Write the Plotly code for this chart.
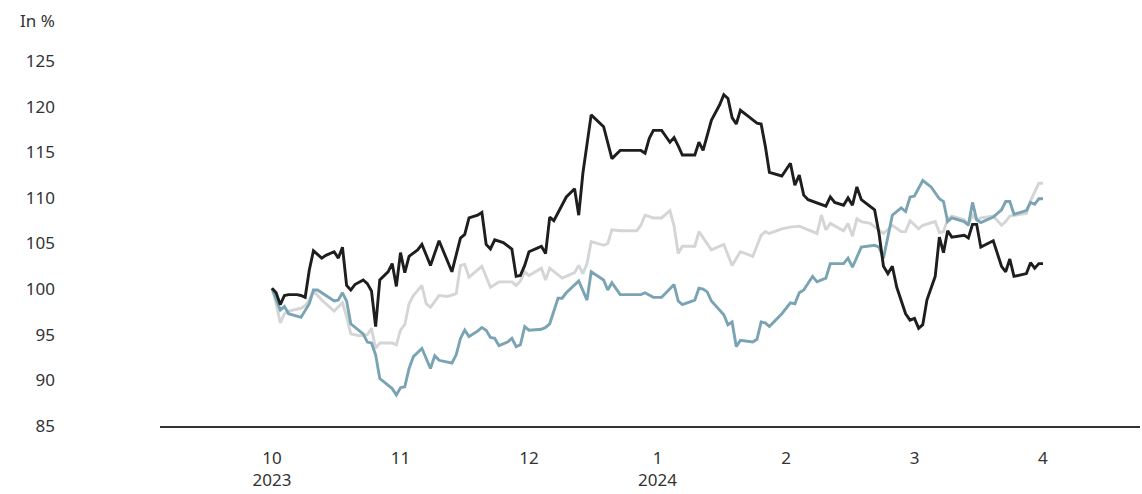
import calendar
import pandas as pd
import plotly.graph_objects as go

# ---------------- data ----------------
black_dates = [
    "2023-10-01", "2023-10-02", "2023-10-03", "2023-10-04", "2023-10-05", "2023-10-07", "2023-10-08",
    "2023-10-09", "2023-10-10", "2023-10-11", "2023-10-13", "2023-10-14", "2023-10-16", "2023-10-17",
    "2023-10-18", "2023-10-19", "2023-10-20", "2023-10-21", "2023-10-23", "2023-10-24", "2023-10-25",
    "2023-10-26", "2023-10-27", "2023-10-29", "2023-10-30", "2023-10-31", "2023-11-01", "2023-11-02",
    "2023-11-03", "2023-11-05", "2023-11-06", "2023-11-08", "2023-11-10", "2023-11-13", "2023-11-15",
    "2023-11-16", "2023-11-17", "2023-11-19", "2023-11-20", "2023-11-21", "2023-11-22", "2023-11-23",
    "2023-11-25", "2023-11-26", "2023-11-27", "2023-11-28", "2023-11-29", "2023-11-30", "2023-12-01",
    "2023-12-03", "2023-12-04", "2023-12-05", "2023-12-06", "2023-12-07", "2023-12-09", "2023-12-10",
    "2023-12-12", "2023-12-13", "2023-12-14", "2023-12-16", "2023-12-19", "2023-12-20", "2023-12-21",
    "2023-12-23", "2023-12-28", "2023-12-29", "2023-12-30", "2023-12-31", "2024-01-02", "2024-01-04",
    "2024-01-05", "2024-01-06", "2024-01-07", "2024-01-10", "2024-01-11", "2024-01-12", "2024-01-13",
    "2024-01-14", "2024-01-16", "2024-01-17", "2024-01-18", "2024-01-19", "2024-01-20", "2024-01-21",
    "2024-01-23", "2024-01-25", "2024-01-26", "2024-01-27", "2024-01-28", "2024-01-31", "2024-02-02",
    "2024-02-03", "2024-02-04", "2024-02-05", "2024-02-06", "2024-02-09", "2024-02-10", "2024-02-11",
    "2024-02-12", "2024-02-14", "2024-02-15", "2024-02-16", "2024-02-17", "2024-02-18", "2024-02-21",
    "2024-02-22", "2024-02-23", "2024-02-24", "2024-02-25", "2024-02-26", "2024-02-28", "2024-02-29",
    "2024-03-01", "2024-03-02", "2024-03-03", "2024-03-04", "2024-03-06", "2024-03-07", "2024-03-08",
    "2024-03-09", "2024-03-10", "2024-03-13", "2024-03-14", "2024-03-15", "2024-03-16", "2024-03-17",
    "2024-03-20", "2024-03-22", "2024-03-23", "2024-03-24", "2024-03-25", "2024-03-28", "2024-03-29",
    "2024-03-30", "2024-03-31", "2024-04-01",
]
black_values = [
    100.1, 99.6, 98.3, 99.3, 99.4, 99.4, 99.3,
    99.1, 102.1, 104.2, 103.4, 103.7, 104.1, 103.4,
    104.6, 100.4, 99.9, 100.5, 101.0, 100.6, 99.8,
    95.9, 101.0, 101.9, 102.8, 100.3, 104.0, 101.8,
    103.6, 104.3, 104.9, 102.6, 105.3, 101.9, 105.6,
    106.0, 107.8, 108.1, 108.4, 104.9, 104.4, 105.4,
    105.1, 104.7, 104.4, 101.4, 101.5, 102.6, 104.1,
    104.5, 104.7, 103.9, 107.9, 107.5, 109.3, 110.1,
    111.0, 108.1, 112.7, 119.1, 117.8, 116.0, 114.3,
    115.2, 115.2, 114.9, 116.5, 117.4, 117.4, 116.1,
    116.6, 115.7, 114.7, 114.7, 116.1, 115.2, 117.0,
    118.5, 120.2, 121.3, 120.9, 118.8, 118.1, 119.6,
    118.9, 118.2, 118.1, 115.7, 112.8, 112.4, 113.8,
    111.4, 112.5, 110.3, 109.8, 109.3, 109.1, 110.1,
    109.5, 109.2, 110.0, 109.2, 111.2, 109.8, 108.7,
    106.1, 102.5, 101.7, 102.5, 100.2, 97.3, 96.6,
    96.8, 95.7, 96.1, 98.8, 101.4, 105.7, 104.0,
    106.4, 105.7, 105.9, 105.6, 107.1, 107.1, 104.6,
    105.3, 102.5, 101.9, 103.3, 101.4, 101.7, 102.9,
    102.3, 102.8, 102.8,
]

blue_dates = [
    "2023-10-01", "2023-10-02", "2023-10-03", "2023-10-04", "2023-10-05", "2023-10-08", "2023-10-10",
    "2023-10-11", "2023-10-12", "2023-10-16", "2023-10-17", "2023-10-18", "2023-10-19", "2023-10-20",
    "2023-10-23", "2023-10-24", "2023-10-25", "2023-10-26", "2023-10-27", "2023-10-30", "2023-10-31",
    "2023-11-01", "2023-11-02", "2023-11-03", "2023-11-04", "2023-11-06", "2023-11-08", "2023-11-09",
    "2023-11-10", "2023-11-12", "2023-11-13", "2023-11-14", "2023-11-15", "2023-11-16", "2023-11-17",
    "2023-11-19", "2023-11-20", "2023-11-21", "2023-11-22", "2023-11-23", "2023-11-24", "2023-11-26",
    "2023-11-27", "2023-11-28", "2023-11-29", "2023-11-30", "2023-12-01", "2023-12-04", "2023-12-05",
    "2023-12-06", "2023-12-08", "2023-12-09", "2023-12-10", "2023-12-13", "2023-12-15", "2023-12-16",
    "2023-12-19", "2023-12-20", "2023-12-21", "2023-12-23", "2023-12-28", "2023-12-29", "2023-12-31",
    "2024-01-02", "2024-01-05", "2024-01-06", "2024-01-07", "2024-01-10", "2024-01-11", "2024-01-12",
    "2024-01-13", "2024-01-14", "2024-01-17", "2024-01-18", "2024-01-19", "2024-01-20", "2024-01-21",
    "2024-01-24", "2024-01-25", "2024-01-26", "2024-01-27", "2024-01-28", "2024-01-31", "2024-02-02",
    "2024-02-03", "2024-02-04", "2024-02-05", "2024-02-07", "2024-02-08", "2024-02-10", "2024-02-11",
    "2024-02-14", "2024-02-15", "2024-02-16", "2024-02-18", "2024-02-21", "2024-02-22", "2024-02-23",
    "2024-02-25", "2024-02-27", "2024-02-28", "2024-02-29", "2024-03-01", "2024-03-03", "2024-03-05",
    "2024-03-07", "2024-03-08", "2024-03-09", "2024-03-10", "2024-03-13", "2024-03-14", "2024-03-15",
    "2024-03-16", "2024-03-17", "2024-03-20", "2024-03-22", "2024-03-23", "2024-03-24", "2024-03-25",
    "2024-03-28", "2024-03-29", "2024-03-30", "2024-03-31", "2024-04-01",
]
blue_values = [
    100.1, 99.0, 97.7, 98.1, 97.3, 96.9, 98.4,
    99.9, 99.9, 98.7, 98.8, 99.6, 98.7, 96.2,
    95.1, 94.2, 94.1, 92.8, 90.2, 89.1, 88.4,
    89.2, 89.3, 91.3, 92.6, 93.5, 91.3, 92.7,
    92.2, 92.0, 91.9, 92.8, 94.6, 95.5, 94.8,
    95.4, 95.8, 95.5, 94.7, 94.6, 93.8, 94.2,
    94.6, 93.7, 93.9, 95.9, 95.5, 95.6, 95.8,
    96.2, 99.0, 99.0, 99.6, 100.9, 98.8, 101.9,
    101.0, 99.9, 100.7, 99.4, 99.4, 99.6, 99.1,
    99.1, 100.5, 98.7, 98.3, 98.8, 100.1, 100.0,
    99.7, 98.7, 97.2, 96.1, 96.4, 93.7, 94.4,
    94.2, 94.5, 96.4, 96.3, 95.9, 97.3, 98.5,
    98.4, 99.6, 99.9, 101.4, 100.8, 101.2, 102.8,
    102.8, 103.4, 102.4, 104.6, 104.8, 104.6, 103.4,
    108.1, 108.9, 108.5, 110.1, 110.2, 111.9, 111.2,
    109.9, 109.6, 107.4, 107.8, 107.4, 107.0, 109.5,
    107.6, 107.3, 107.9, 108.7, 109.6, 109.6, 108.2,
    108.6, 109.5, 109.3, 109.9, 109.9,
]

gray_dates = [
    "2023-10-01", "2023-10-02", "2023-10-03", "2023-10-04", "2023-10-05", "2023-10-08", "2023-10-09",
    "2023-10-10", "2023-10-11", "2023-10-13", "2023-10-16", "2023-10-18", "2023-10-19", "2023-10-20",
    "2023-10-22", "2023-10-24", "2023-10-25", "2023-10-26", "2023-10-27", "2023-10-30", "2023-10-31",
    "2023-11-01", "2023-11-02", "2023-11-03", "2023-11-04", "2023-11-06", "2023-11-07", "2023-11-08",
    "2023-11-10", "2023-11-12", "2023-11-14", "2023-11-15", "2023-11-16", "2023-11-17", "2023-11-19",
    "2023-11-20", "2023-11-22", "2023-11-24", "2023-11-27", "2023-11-28", "2023-11-29", "2023-11-30",
    "2023-12-01", "2023-12-03", "2023-12-04", "2023-12-05", "2023-12-06", "2023-12-09", "2023-12-12",
    "2023-12-13", "2023-12-14", "2023-12-15", "2023-12-16", "2023-12-19", "2023-12-20", "2023-12-21",
    "2023-12-23", "2023-12-27", "2023-12-28", "2023-12-29", "2023-12-31", "2024-01-02", "2024-01-04",
    "2024-01-05", "2024-01-06", "2024-01-07", "2024-01-10", "2024-01-11", "2024-01-12", "2024-01-14",
    "2024-01-17", "2024-01-19", "2024-01-21", "2024-01-24", "2024-01-26", "2024-01-27", "2024-01-28",
    "2024-01-31", "2024-02-02", "2024-02-04", "2024-02-08", "2024-02-09", "2024-02-10", "2024-02-11",
    "2024-02-14", "2024-02-15", "2024-02-16", "2024-02-17", "2024-02-18", "2024-02-20", "2024-02-23",
    "2024-02-25", "2024-02-27", "2024-02-28", "2024-02-29", "2024-03-02", "2024-03-03", "2024-03-06",
    "2024-03-07", "2024-03-08", "2024-03-09", "2024-03-10", "2024-03-13", "2024-03-14", "2024-03-15",
    "2024-03-16", "2024-03-17", "2024-03-20", "2024-03-22", "2024-03-23", "2024-03-24", "2024-03-28",
    "2024-03-29", "2024-03-31", "2024-04-01",
]
gray_values = [
    100.1, 98.4, 96.3, 97.3, 97.6, 97.9, 98.2,
    98.8, 99.8, 98.8, 97.6, 98.5, 97.0, 95.1,
    94.9, 95.0, 95.7, 93.5, 94.1, 94.1, 93.9,
    95.5, 96.1, 98.4, 99.3, 100.4, 98.4, 98.0,
    99.3, 99.2, 99.5, 102.6, 102.7, 101.3, 102.1,
    102.5, 100.2, 100.8, 100.8, 100.4, 100.9, 101.9,
    101.5, 102.0, 102.3, 101.0, 102.3, 101.2, 101.8,
    102.6, 101.7, 102.8, 105.2, 104.8, 105.0, 106.5,
    106.4, 106.4, 107.0, 108.1, 107.8, 107.8, 108.6,
    106.9, 103.9, 104.7, 104.7, 106.3, 105.6, 104.3,
    104.9, 102.6, 104.1, 103.6, 105.9, 106.3, 106.1,
    106.6, 106.8, 106.9, 106.1, 108.1, 106.5, 107.2,
    106.4, 107.2, 105.8, 107.7, 107.4, 107.2, 106.1,
    107.0, 106.3, 106.3, 107.5, 106.6, 107.0, 107.4,
    106.2, 106.3, 107.7, 108.0, 107.6, 107.1, 108.1,
    107.6, 107.8, 108.0, 107.0, 107.4, 108.0, 108.3,
    109.7, 111.6, 111.6,
]

tick_labels = ["10<br>2023", "11", "12", "1<br>2024", "2", "3", "4"]
y_ticks = [85, 90, 95, 100, 105, 110, 115, 120, 125]

START_YEAR, START_MONTH = 2023, 10


def month_pos(dates):
    """Position on an axis where every calendar month has the same width."""
    out = []
    for d in pd.to_datetime(dates):
        idx = (d.year - START_YEAR) * 12 + d.month - START_MONTH
        ndays = calendar.monthrange(d.year, d.month)[1]
        out.append(idx + (d.day - 1) / ndays)
    return out


fig = go.Figure()
series = [
    (gray_dates, gray_values, "#d4d5d6"),
    (blue_dates, blue_values, "#7aa3b3"),
    (black_dates, black_values, "#1e1e1e"),
]
for dts, vals, col in series:
    fig.add_trace(go.Scatter(
        x=month_pos(dts), y=vals, mode="lines",
        line=dict(color=col, width=2.9), hoverinfo="skip", showlegend=False,
    ))

font_fam = "Noto Sans, Open Sans, sans-serif"
fig.update_layout(
    width=1142, height=494,
    margin=dict(l=160, r=2, t=61, b=68),
    paper_bgcolor="white", plot_bgcolor="white",
    font=dict(family=font_fam, size=17, color="#333333"),
    xaxis=dict(
        range=[-0.8716, 6.755],
        tickmode="array", tickvals=list(range(len(tick_labels))), ticktext=tick_labels,
        showgrid=False, zeroline=False,
        showline=True, linecolor="#333333", linewidth=1.5,
        ticks="", ticklabelstandoff=16,
        tickfont=dict(size=17, color="#333333"),
    ),
    yaxis=dict(
        range=[85, 125],
        tickmode="array", tickvals=y_ticks,
        showgrid=False, zeroline=False, showline=False,
        ticks="", ticklabelstandoff=104,
        tickfont=dict(size=17, color="#333333"),
    ),
    annotations=[dict(
        text="In %", xref="paper", yref="paper", x=-(160 - 18) / 980, y=1 + (61 - 7) / 365,
        xanchor="left", yanchor="top", showarrow=False,
        font=dict(size=17, color="#333333", family=font_fam),
    )],
)

# remove the default 8 px page margin so the figure fills the window exactly
fig.write_html(
    "out.html",
    config={"displayModeBar": False, "staticPlot": True},
    post_script="document.body.style.margin='0';document.body.style.overflow='hidden';",
)
